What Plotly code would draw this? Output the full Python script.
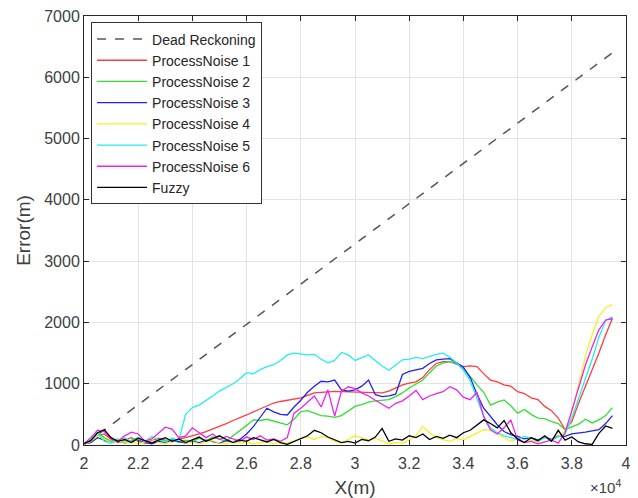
import plotly.graph_objects as go

# x positions (m)
x_vals = [20000 + 250 * i for i in range(79)]

dr_x = [20000, 39500]
dr_y = [0, 6400]

pn1 = [20, 60, 150, 180, 90, 40, 80, 120, 60, 30, 70, 110, 80, 50, 90, 120,
       140, 180, 220, 260, 300, 350, 400, 440, 490, 540, 590, 640, 685, 710,
       730, 750, 770, 810, 850, 860, 870, 875, 870, 865, 870, 860, 855, 850,
       850, 880, 930, 980, 1010, 1030, 1100, 1230, 1330, 1360, 1360, 1320,
       1280, 1290, 1280, 1160, 1060, 1030, 980, 960, 870, 840, 770, 740, 630,
       560, 440, 250, 380, 680, 950, 1220, 1500, 1800, 2070]

pn2 = [10, 80, 200, 120, 60, 100, 40, 80, 120, 60, 30, 90, 60, 100, 40, 80,
       50, 110, 70, 130, 90, 60, 150, 230, 320, 410, 400, 420, 390, 350, 330,
       420, 545, 560, 520, 480, 470, 450, 480, 560, 630, 660, 700, 720, 730,
       740, 790, 850, 930, 990, 1060, 1180, 1290, 1340, 1360, 1330, 1240,
       1120, 980, 860, 650, 700, 735, 640, 520, 580, 500, 440, 430, 380, 350,
       250, 300, 340, 420, 360, 410, 480, 610]

pn3 = [20, 40, 120, 80, 40, 70, 30, 60, 90, 40, 20, 60, 40, 80, 50, 30, 60,
       40, 80, 50, 30, 70, 50, 90, 180, 300, 450, 600, 540, 500, 490, 620,
       730, 860, 960, 1040, 1030, 1060, 900, 880, 900, 960, 1060, 820, 790,
       800, 830, 1150, 1200, 1230, 1250, 1330, 1390, 1400, 1410, 1340, 1270,
       1100, 830, 600, 460, 330, 220, 170, 140, 100, 120, 80, 130, 90, 150,
       140, 180, 190, 210, 230, 250, 350, 480]

pn4 = [10, 60, 150, 100, 40, 80, 30, 60, 20, 50, 90, 40, 20, 60, 100, 30,
       50, 20, 40, 70, 30, 20, 60, 30, 50, 20, 40, 60, 20, 40, 30, 70, 110,
       130, 90, 140, 120, 60, 30, 90, 150, 120, 80, 110, 60, 20, 40, 30, 80,
       150, 300, 200, 120, 90, 60, 110, 80, 140, 200, 250, 240, 180, 120, 60,
       100, 40, 80, 50, 120, 70, 140, 220, 520, 1000, 1450, 1800, 2100, 2240,
       2290]

pn5 = [30, 100, 200, 60, 30, 80, 120, 50, 100, 60, 140, 90, 50, 110, 80,
       500, 610, 650, 720, 800, 880, 940, 1000, 1080, 1180, 1160, 1230, 1280,
       1310, 1380, 1470, 1500, 1490, 1470, 1480, 1400, 1340, 1380, 1510, 1470,
       1380, 1420, 1470, 1380, 1290, 1220, 1300, 1390, 1400, 1430, 1410, 1450,
       1480, 1500, 1430, 1340, 1220, 1050, 750, 470, 280, 200, 150, 120, 90,
       140, 110, 60, 120, 80, 130, 180, 440, 760, 1100, 1400, 1760, 2030,
       2090]

pn6 = [20, 120, 240, 220, 100, 60, 150, 210, 180, 60, 100, 200, 290, 260,
       120, 150, 280, 200, 120, 180, 90, 140, 100, 60, 130, 90, 150, 80, 100,
       60, 120, 520, 600, 700, 800, 620, 900, 470, 880, 950, 920, 850, 800,
       730, 660, 600, 680, 720, 800, 890, 740, 800, 840, 870, 950, 900, 780,
       740, 860, 460, 250, 180, 280, 410, 80, 40, 60, 20, 50, 80, 30, 200,
       560, 950, 1300, 1600, 1880, 2040, 2060]

fuzzy = [20, 70, 200, 250, 120, 60, 90, 40, 110, 70, 30, 80, 120, 60, 100,
         40, 80, 130, 60, 100, 150, 90, 40, 80, 60, 120, 80, 50, 90, 40, 10,
         60, 110, 150, 240, 200, 130, 80, 40, 60, 30, 90, 70, 130, 270, 60,
         100, 80, 150, 120, 180, 90, 140, 110, 160, 120, 200, 240, 320, 410,
         350, 280, 400, 200, 100, 40, 120, 70, 150, 60, 240, 80, 130, 50, 20,
         10, 190, 310, 270]

x_tickvals = [20000, 22000, 24000, 26000, 28000, 30000, 32000, 34000, 36000, 38000, 40000]
x_ticktext = ["2", "2.2", "2.4", "2.6", "2.8", "3", "3.2", "3.4", "3.6", "3.8", "4"]
y_tickvals = [0, 1000, 2000, 3000, 4000, 5000, 6000, 7000]

series = [
    ("ProcessNoise 1", pn1, "#ff3b3b"),
    ("ProcessNoise 2", pn2, "#33dd33"),
    ("ProcessNoise 3", pn3, "#2222ee"),
    ("ProcessNoise 4", pn4, "#f2f222"),
    ("ProcessNoise 5", pn5, "#22eeee"),
    ("ProcessNoise 6", pn6, "#ee22ee"),
    ("Fuzzy", fuzzy, "#000000"),
]

fig = go.Figure()
fig.add_trace(go.Scatter(x=dr_x, y=dr_y, mode="lines", name="Dead Reckoning",
                         line=dict(color="#555555", width=1.5, dash="dash")))
for name, ys, col in series:
    fig.add_trace(go.Scatter(x=x_vals, y=ys, mode="lines", name=name,
                             line=dict(color=col, width=1.3)))

font_fam = "Liberation Sans, Arial, sans-serif"
fig.update_layout(
    width=630, height=490,
    margin=dict(l=76, r=12, t=8, b=53, autoexpand=False),
    paper_bgcolor="white", plot_bgcolor="white",
    font=dict(family=font_fam, size=16, color="#404040"),
    showlegend=True,
    legend=dict(x=0.013, y=0.985, xanchor="left", yanchor="top",
                bgcolor="white", bordercolor="#333333", borderwidth=1,
                font=dict(size=14, color="#262626"), tracegroupgap=0,
                itemwidth=50),
    xaxis=dict(range=[20000, 40000], tickvals=x_tickvals, ticktext=x_ticktext,
               automargin=False, ticklabelstandoff=4, ticklabeloverflow="allow",
               showgrid=True, gridcolor="#e3e3e3", gridwidth=1,
               showline=True, linecolor="#262626", linewidth=1, mirror="allticks",
               ticks="inside", ticklen=5, tickcolor="#262626", zeroline=False,
               title=dict(text="X(m)", standoff=12)),
    yaxis=dict(range=[0, 7000], tickvals=y_tickvals,
               automargin=False, ticklabeloverflow="allow",
               showgrid=True, gridcolor="#e3e3e3", gridwidth=1,
               showline=True, linecolor="#262626", linewidth=1, mirror="allticks",
               ticks="inside", ticklen=5, tickcolor="#262626", zeroline=False,
               title=dict(text="Error(m)", standoff=8)),
)
fig.add_annotation(text="×10<sup>4</sup>", xref="paper", yref="paper",
                   x=0.9945, y=-0.097, xanchor="right", yanchor="middle",
                   showarrow=False, font=dict(size=15, color="#404040"))

fig.write_html("out.html")
